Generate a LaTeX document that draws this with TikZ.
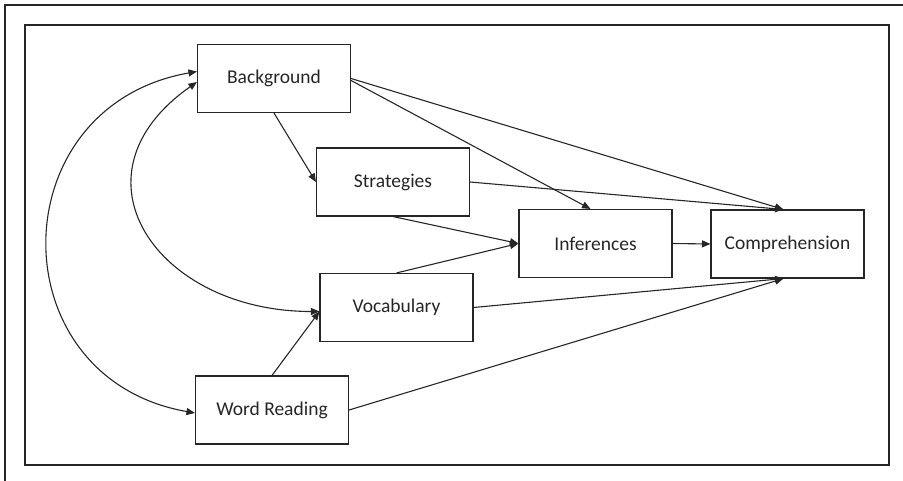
\documentclass[tikz,border=0pt]{standalone}
\usepackage{fontspec}
\setmainfont{Carlito}
\usetikzlibrary{arrows.meta}

\begin{document}
\begin{tikzpicture}[x=1pt, y=-1pt, line width=1.1pt, draw=black!85, >={Triangle[length=8.5pt, width=7pt]}, main/.style = {draw, rectangle, minimum width=153pt, minimum height=68pt, text=black!85, font=\fontsize{19.5}{23}\selectfont}]
    \useasboundingbox (0,0) rectangle (903,481);
    \draw (903,5) -- (5,5) -- (5,481);
    \draw (25,25) rectangle (889,465);
    \node[main] (1) at (274,78.5) {Background};
    \node[main] (2) at (393,182) {Strategies};
    \node[main] (3) at (595.5,243.5) {Inferences};
    \node[main] (4) at (787.5,244) {Comprehension};
    \node[main] (5) at (396.5,307.5) {Vocabulary};
    \node[main] (6) at (272,410) {Word Reading};
    \draw[->] (1.south) -- (2.west);
    \draw[->] ([yshift=-2pt]1.east) -- ([xshift=-5pt]3.north);
    \draw[->] (1.east) -- ([xshift=-4pt]4.north);
    \draw[->] (2.east) -- ([xshift=-4pt]4.north);
    \draw[->] (2.south) -- (3.west);
    \draw[->] (5.north) -- (3.west);
    \draw[->] (3.east) -- (4.west);
    \draw[->] (5.east) -- ([xshift=-4pt]4.south);
    \draw[->] (6.east) -- ([xshift=-4pt]4.south);
    \draw[->] (6.north) -- ([yshift=-4pt]5.west);
    % correlations
    \draw[<->] ([yshift=-3pt]6.west) to[out=170, in=190, looseness=1.5] ([yshift=7pt]1.west);
    \draw[<->] ([yshift=-4pt]5.west) to[out=180, in=215, looseness=1.6] ([yshift=-3.5pt]1.west);
\end{tikzpicture}
\end{document}
